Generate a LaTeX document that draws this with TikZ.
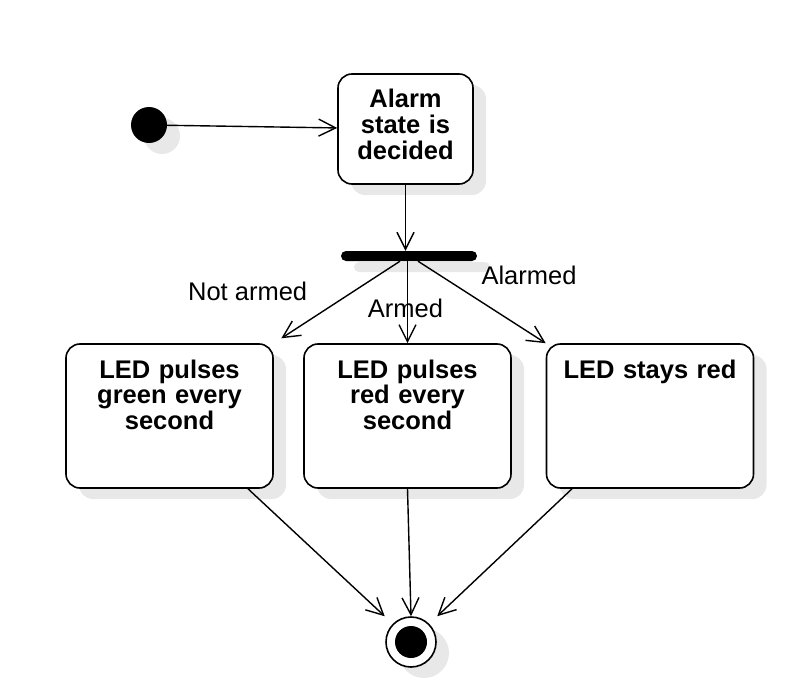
\documentclass[tikz,border=0pt]{standalone}
\usepackage{fontspec}
\setmainfont{Liberation Sans}
\usetikzlibrary{arrows.meta, shadows}

\begin{document}
\begin{tikzpicture}[
    x=1bp, y=-1bp,
    every node/.style={font=\fontsize{25.5bp}{25.5bp}\selectfont},
    castshadow/.style={drop shadow={shadow xshift=13bp, shadow yshift=-11bp, fill=black!9, opacity=1}},
    startdot/.style={circle, fill=black, minimum size=36bp, inner sep=0, castshadow},
    enddot/.style={circle, draw, fill=white, line width=1.6bp, minimum size=50bp, inner sep=0, castshadow,
        path picture={\fill[black] (path picture bounding box.center) circle (16bp);}},
    bar/.style={rectangle, fill=black, rounded corners=5bp, minimum width=136bp, minimum height=10bp, inner sep=0, castshadow},
    decision/.style={rectangle, draw, fill=white, rounded corners=14bp, line width=1.6bp, text width=119bp, align=center, inner xsep=8bp, inner ysep=10bp, text height=24bp, text depth=66bp, font=\fontsize{25.5bp}{25.5bp}\selectfont\bfseries, castshadow},
    action/.style={rectangle, draw, fill=white, rounded corners=14bp, line width=1.6bp, text width=191bp, align=center, inner xsep=8bp, inner ysep=16bp, text height=18bp, text depth=94bp, font=\fontsize{25.5bp}{25.5bp}\selectfont\bfseries, castshadow},
    guard/.style={inner sep=0},
    arrow/.style={draw, line width=1.4bp, -{Straight Barb[length=17bp, width=17bp]}}
]
\useasboundingbox (0,0) rectangle (788,694);

% Nodes
\node[startdot] (start) at (149,125) {};
\node[decision] (decided) at (405.5,129) {Alarm\\state is\\decided};
\node[bar] (fork) at (409,256) {};
\node[action] (pulsegreen) at (169.5,416) {LED pulses\\green every\\second};
\node[action] (pulsered) at (407.5,416) {LED pulses\\red every\\second};
\node[action] (staysred) at (650,416) {LED stays red};
\node[enddot] (final) at (411,642) {};

% Arrows
\draw[arrow] (start) -- (decided);
\draw[arrow] (decided.south) -- (decided.south |- fork.north);
\draw[arrow, shorten >=9bp] ([xshift=-9bp]fork.south) -- (pulsegreen.north east)
    node[guard, pos=0.5, anchor=south east, xshift=-29bp, yshift=1bp] {Not armed};
\draw[arrow] (fork.south -| pulsered.north) -- (pulsered.north)
    node[guard, pos=0.58, xshift=-2bp] {Armed};
\draw[arrow] ([xshift=9bp]fork.south) -- (staysred.north west)
    node[guard, pos=0.5, anchor=south west, xshift=-1bp, yshift=17bp] {Alarmed};
\draw[arrow, shorten >=11bp] ([xshift=78.5bp]pulsegreen.south) -- (final.north west);
\draw[arrow] (pulsered.south) -- (final.north);
\draw[arrow, shorten >=11bp] ([xshift=-78bp]staysred.south) -- (final.north east);

\end{tikzpicture}
\end{document}
